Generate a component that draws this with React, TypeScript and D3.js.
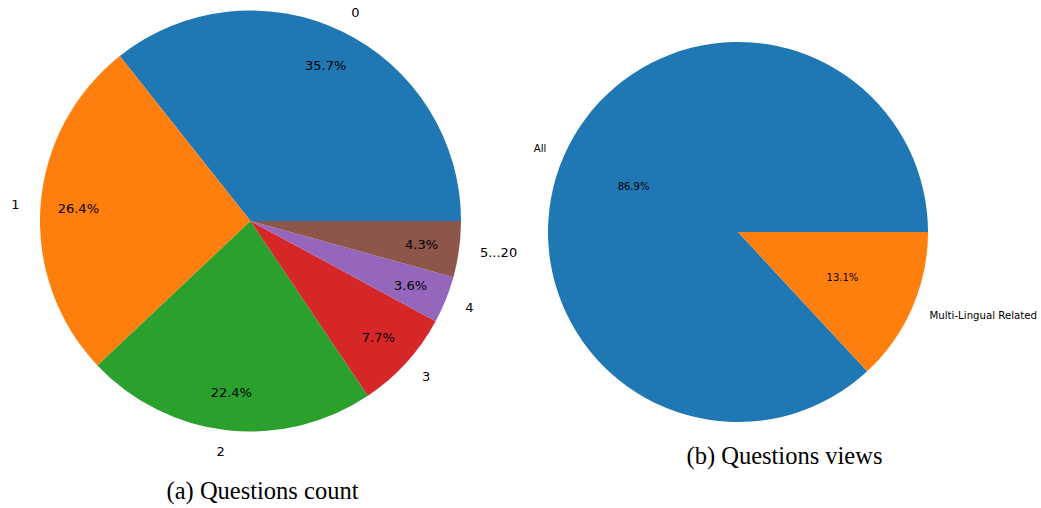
import React from "react";
import * as d3 from "d3";

const countLabels = ["0", "1", "2", "3", "4", "5...20"];
const countValues = [35.7, 26.4, 22.4, 7.7, 3.6, 4.3];
const viewLabels = ["All", "Multi-Lingual Related"];
const viewValues = [86.9, 13.1];
const colors = ["#1f77b4", "#ff7f0e", "#2ca02c", "#d62728", "#9467bd", "#8c564b"];

type PieProps = {
  labels: string[];
  values: number[];
  cx: number;
  cy: number;
  r: number;
  pctDist: number;
  labelSize: number;
  pctSize: number;
};

function Pie({ labels, values, cx, cy, r, pctDist, labelSize, pctSize }: PieProps) {
  // matplotlib style: start at 3 o'clock, counter-clockwise
  const angle = d3
    .scaleLinear()
    .domain([0, d3.sum(values)])
    .range([Math.PI / 2, Math.PI / 2 - 2 * Math.PI]);
  const cum = d3.cumsum(values);
  const arc = d3.arc<any>();
  return (
    <g transform={`translate(${cx},${cy})`}>
      {values.map((v, i) => {
        const a0 = angle(cum[i] - v);
        const a1 = angle(cum[i]);
        const d = arc({ innerRadius: 0, outerRadius: r, startAngle: a1, endAngle: a0 }) as string;
        return <path key={"s" + i} d={d} fill={colors[i]} />;
      })}
      {values.map((v, i) => {
        const mid = (angle(cum[i] - v) + angle(cum[i])) / 2; // d3 angle: 0 at 12 o'clock, clockwise
        const ux = Math.sin(mid);
        const uy = -Math.cos(mid);
        const lx = ux * r * 1.1;
        const ly = uy * r * 1.1;
        const px = ux * r * pctDist;
        const py = uy * r * pctDist;
        return (
          <g key={"t" + i} fontFamily="DejaVu Sans, sans-serif" fill="#000">
            <text
              x={lx}
              y={ly}
              fontSize={labelSize}
              textAnchor={ux < 0 ? "end" : "start"}
              dominantBaseline="central"
            >
              {labels[i]}
            </text>
            <text x={px} y={py} fontSize={pctSize} textAnchor="middle" dominantBaseline="central">
              {v.toFixed(1) + "%"}
            </text>
          </g>
        );
      })}
    </g>
  );
}

export default function App() {
  return (
    <svg
      width={1041}
      height={508}
      style={{ position: "absolute", left: 0, top: 0, background: "#fff" }}
    >
      <Pie labels={countLabels} values={countValues} cx={250.5} cy={221} r={210.5} pctDist={0.82} labelSize={13} pctSize={13} />
      <Pie labels={viewLabels} values={viewValues} cx={738} cy={232} r={190} pctDist={0.6} labelSize={10.2} pctSize={10} />
      <text x={262.5} y={499} fontFamily="Liberation Serif, serif" fontSize={24.5} textAnchor="middle" fill="#000">
        (a) Questions count
      </text>
      <text x={784.5} y={464} fontFamily="Liberation Serif, serif" fontSize={24.5} textAnchor="middle" fill="#000">
        (b) Questions views
      </text>
    </svg>
  );
}
